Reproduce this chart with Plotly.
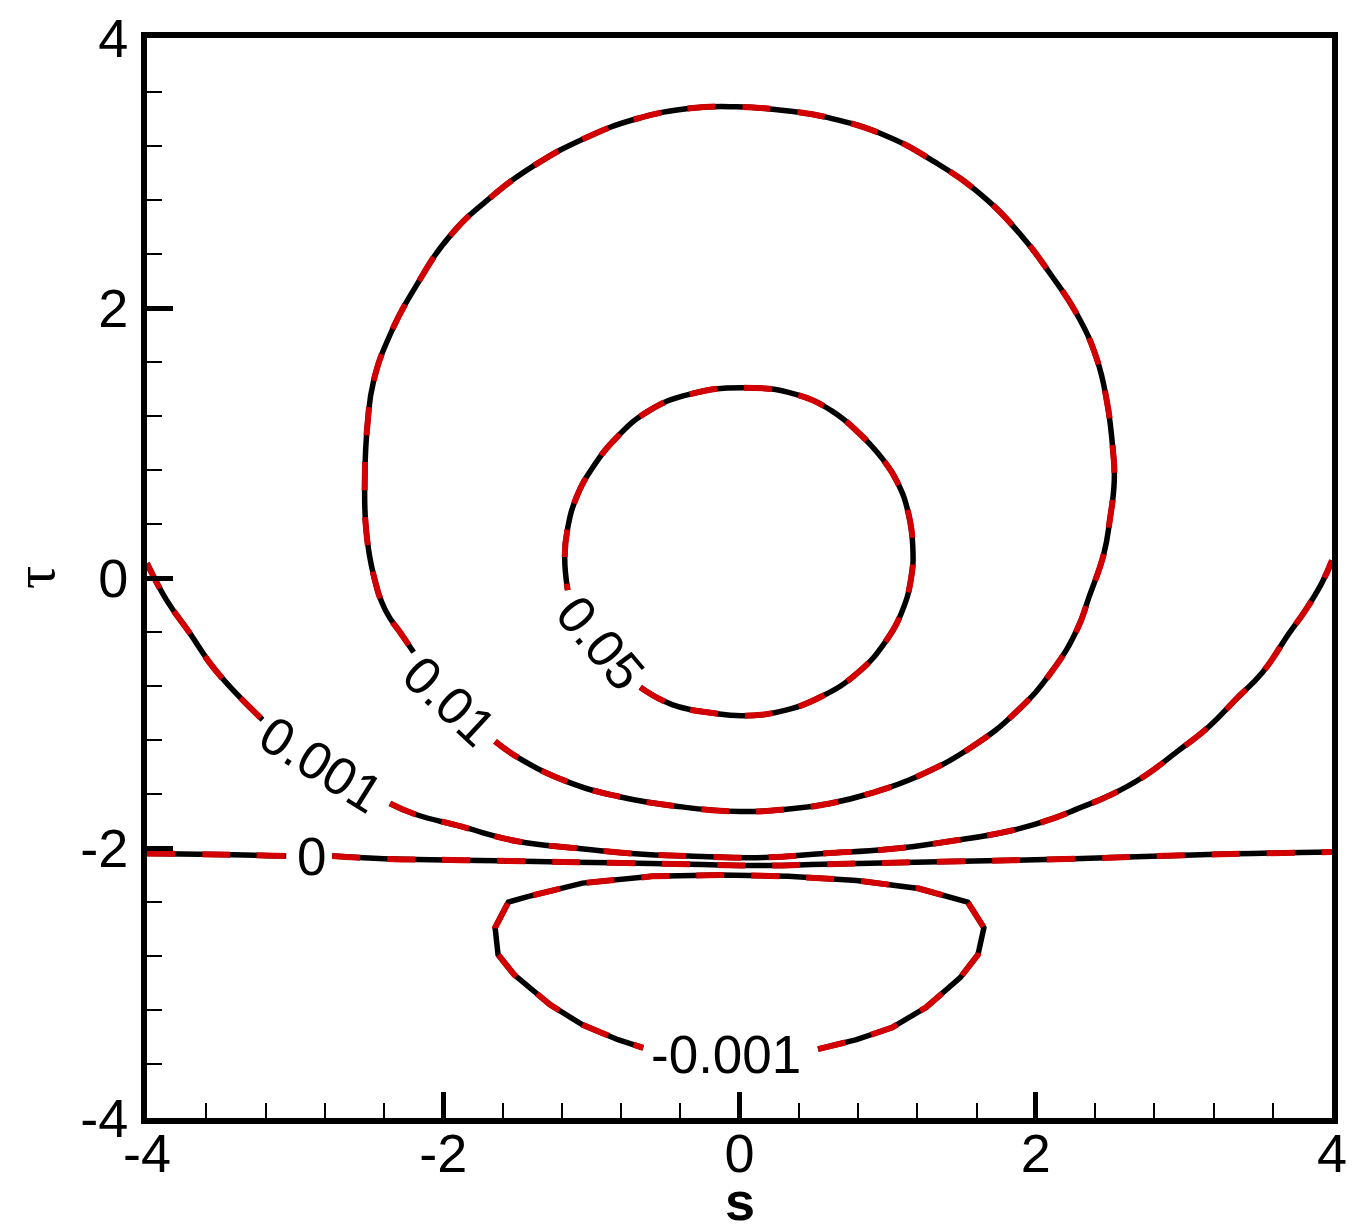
import plotly.graph_objects as go

# contour lines (s, tau); None = gap left for a label
c005_s = [-0.67, -0.45, -0.18, 0.02, 0.27, 0.55, 0.80, 0.98, 1.10, 1.16, 1.17, 1.14, 1.07, 0.96,
          0.80, 0.62, 0.38, 0.02, -0.34, -0.61, -0.83, -0.99, -1.10, -1.16, -1.18, -1.16]
c005_tau = [-0.81, -0.94, -1.00, -1.02, -0.99, -0.88, -0.70, -0.48, -0.24, 0.01, 0.23, 0.48, 0.70, 0.89,
            1.08, 1.24, 1.36, 1.41, 1.36, 1.24, 1.04, 0.82, 0.60, 0.37, 0.16, -0.09]

c001_s = [-1.65, -1.48, -1.16, -0.81, -0.43, 0.00, 0.35, 0.61, 0.87, 1.20, 1.57, 1.87, 2.11, 2.28,
          2.36, 2.46, 2.50, 2.53, 2.52, 2.48, 2.41, 2.28, 2.10, 1.90, 1.63, 1.32, 0.98, 0.60, 0.33,
          -0.02, -0.33, -0.70, -1.04, -1.38, -1.69, -1.95, -2.18, -2.36, -2.47, -2.51, -2.53, -2.52,
          -2.47, -2.39, -2.28, -2.20]
c001_tau = [-1.21, -1.34, -1.51, -1.62, -1.69, -1.73, -1.71, -1.67, -1.60, -1.47, -1.25, -0.99, -0.69, -0.38,
            -0.14, 0.18, 0.43, 0.72, 0.96, 1.31, 1.63, 1.95, 2.25, 2.54, 2.84, 3.08, 3.28, 3.41, 3.46,
            3.49, 3.48, 3.40, 3.26, 3.06, 2.81, 2.54, 2.17, 1.80, 1.46, 1.16, 0.72, 0.35,
            0.02, -0.24, -0.42, -0.55]

c0001_s = [-4.0, -3.87, -3.71, -3.54, -3.22, None, -2.36, -2.19, -1.88, -1.50, -1.11, -0.73, -0.34, 0.17,
           0.57, 1.00, 1.42, 1.84, 2.12, 2.28, 2.50, 2.73, 2.95, 3.17, 3.35, 3.53, 3.71, 3.82, 3.93, 4.0]
c0001_tau = [0.11, -0.16, -0.41, -0.68, -1.05, None, -1.67, -1.75, -1.84, -1.95, -2.00, -2.04, -2.06, -2.07,
             -2.04, -2.01, -1.95, -1.87, -1.78, -1.71, -1.61, -1.47, -1.29, -1.10, -0.90, -0.70, -0.41,
             -0.24, -0.04, 0.13]

c0_s = [-4.0, -3.42, -3.06, None, -2.75, -2.40, -1.88, -1.37, -0.86, -0.34, 0.17, 0.57, 1.42, 2.26, 3.11, 4.0]
c0_tau = [-2.04, -2.05, -2.06, None, -2.06, -2.08, -2.09, -2.10, -2.11, -2.12, -2.13, -2.12, -2.10, -2.08,
          -2.05, -2.03]

cneg_s = [0.53, 0.79, 1.03, 1.26, 1.49, 1.61, 1.65, 1.54, 1.21, 0.79, 0.33, -0.13, -0.59, -1.06, -1.43,
          -1.56, -1.65, -1.63, -1.52, -1.28, -1.06, -0.82, -0.65]
cneg_tau = [-3.49, -3.42, -3.33, -3.18, -2.96, -2.79, -2.59, -2.40, -2.30, -2.24, -2.21, -2.20, -2.21, -2.26,
            -2.36, -2.40, -2.59, -2.79, -2.94, -3.16, -3.31, -3.42, -3.48]

label_text = ["0.05", "0.01", "0.001", "0", "-0.001"]
label_s = [-0.94, -1.96, -2.82, -2.89, -0.09]
label_tau = [-0.48, -0.91, -1.38, -2.06, -3.53]
label_angle = [50, 43, 32, 0, 0]

tick_vals = [-4, -2, 0, 2, 4]
tick_text = ["-4", "-2", "0", "2", "4"]

fig = go.Figure()

curves = [(c005_s, c005_tau, "spline"), (c001_s, c001_tau, "spline"), (c0001_s, c0001_tau, "spline"),
          (c0_s, c0_tau, "spline"), (cneg_s, cneg_tau, "linear")]
# black solid first, red dashed over it
for xs, ys, shp in curves:
    fig.add_trace(go.Scatter(x=xs, y=ys, mode="lines", line=dict(color="black", width=5.5, shape=shp, smoothing=1.3)))
for xs, ys, shp in curves:
    fig.add_trace(go.Scatter(x=xs, y=ys, mode="lines",
                             line=dict(color="#d20000", width=6, dash="28px,27px", shape=shp, smoothing=1.3)))

for t, xs, ys, a in zip(label_text, label_s, label_tau, label_angle):
    fig.add_annotation(x=xs, y=ys, text=t, textangle=a, showarrow=False,
                       font=dict(family="Liberation Sans", size=53, color="black"))

# axis titles as annotations (the margins are fixed, so axis titles get squeezed)
fig.add_annotation(xref="paper", yref="paper", x=0.5, y=0, yanchor="middle", yshift=-83,
                   text="<b>s</b>", showarrow=False,
                   font=dict(family="Liberation Sans", size=54, color="black"))
fig.add_annotation(xref="paper", yref="paper", x=0, y=0.5, xanchor="center", xshift=-113,
                   text="τ", textangle=-90, showarrow=False,
                   font=dict(family="Liberation Serif", size=58, color="black"))

axis_common = dict(range=[-4, 4], tickvals=tick_vals, ticktext=tick_text, showgrid=False, zeroline=False,
                   showline=True, linewidth=6, linecolor="black", mirror=True,
                   ticks="inside", ticklen=26, tickwidth=5, tickcolor="black", ticklabeloverflow="allow",
                   minor=dict(ticks="inside", ticklen=15, tickwidth=1.5, tickcolor="black", dtick=0.4,
                              showgrid=False),
                   tickfont=dict(family="Liberation Sans", size=54, color="black"))

fig.update_xaxes(**axis_common, ticklabelstandoff=-17)
fig.update_yaxes(**axis_common, ticklabelstandoff=2)

fig.update_layout(width=1367, height=1229, showlegend=False,
                  margin=dict(l=147, r=35, t=38, b=111, autoexpand=False),
                  plot_bgcolor="white", paper_bgcolor="white")

# drop the page's default 8px body margin so the figure fills the window exactly
fig.write_html("out.html", config={"displayModeBar": False},
               post_script="document.body.style.margin='0';")
